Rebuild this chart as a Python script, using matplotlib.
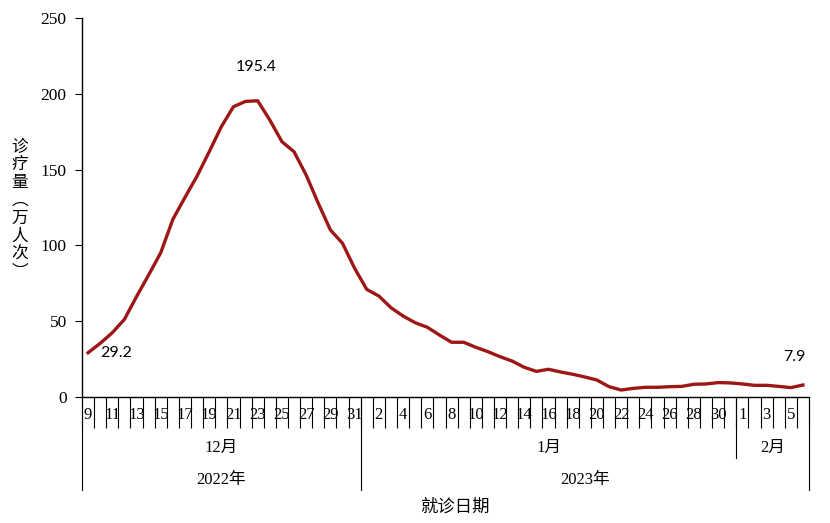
import matplotlib
matplotlib.use("Agg")
import matplotlib.pyplot as plt
import numpy as np

# daily values, 2022-12-09 .. 2023-02-06 (万人次)
days = list(range(9, 32)) + list(range(1, 32)) + list(range(1, 7))
visits = [
    29.2, 35.4, 42.4, 51.2, 66.2, 80.5, 95.2, 117.2, 131.7, 145.8,
    161.8, 178.3, 191.5, 195.0, 195.4, 182.7, 168.4, 161.8, 146.4, 127.8,
    110.2, 101.4, 84.9,
    71.0, 66.6, 58.9, 53.4, 49.0, 46.0, 40.9, 36.1, 36.1, 32.8,
    29.9, 26.6, 23.7, 19.6, 16.9, 18.3, 16.5, 15.0, 13.2, 11.2,
    6.8, 4.6, 5.7, 6.4, 6.4, 6.8, 7.0, 8.4, 8.6, 9.5,
    9.3, 8.6, 7.7, 7.7,
    7.0, 6.2, 7.9,
]
months = ["12月", "1月", "2月"]
month_len = [23, 31, 6]
years = ["2022年", "2023年"]
year_len = [23, 37]
labelled = [0, 14, 59]  # first, peak, last

W, H = 830, 523
fig = plt.figure(figsize=(W / 100, H / 100), dpi=100)
ax = fig.add_axes([82 / W, 1 - 397 / H, 727 / W, 379 / H])

serif = ["Liberation Serif", "Noto Sans CJK SC"]
sans_cjk = ["Noto Sans CJK SC", "DejaVu Sans"]
red = "#9E1717"

n = len(visits)
x = np.arange(n) + 0.5
ax.plot(x, visits, color=red, lw=2.4, solid_joinstyle="round")

ax.set_xlim(0, n)
ax.set_ylim(0, 250)
ax.set_yticks(np.arange(0, 251, 50))
for s in ["top", "right"]:
    ax.spines[s].set_visible(False)
for s in ["left", "bottom"]:
    ax.spines[s].set_linewidth(1.0)

ax.tick_params(axis="y", direction="out", length=5, width=0.8, pad=6)
for lab in ax.get_yticklabels():
    lab.set_fontfamily(serif)
    lab.set_fontsize(12.5)

# day ticks: boundaries as minor ticks, labels every other day
ax.set_xticks(np.arange(0, n + 1), minor=True)
ax.set_xticks(x[::2])
ax.set_xticklabels([str(d) for d in days[::2]], fontfamily=serif, fontsize=12)
ax.tick_params(axis="x", which="minor", direction="out", length=22, width=0.8)
ax.tick_params(axis="x", which="major", length=0, pad=7)

trans = ax.get_xaxis_transform()
ph = 379.0

# month separators and labels
edges = np.concatenate([[0], np.cumsum(month_len)])
year_edges = np.concatenate([[0], np.cumsum(year_len)])
for e in edges:
    depth = 93 if e in year_edges else 61
    ax.plot([e, e], [0, -depth / ph], color="black", lw=0.8,
            transform=trans, clip_on=False)
for m, a, b in zip(months, edges[:-1], edges[1:]):
    ax.text((a + b) / 2, -51 / ph, m, transform=trans, ha="center", va="center",
            fontfamily=serif, fontsize=12)
for yr, a, b in zip(years, year_edges[:-1], year_edges[1:]):
    ax.text((a + b) / 2, -83 / ph, yr, transform=trans, ha="center", va="center",
            fontfamily=serif, fontsize=12)

# data labels
offsets = {0: (20, 0), 14: (-1, 24), 59: (-6, 20)}
for i in labelled:
    ax.annotate(f"{visits[i]:.1f}", xy=(x[i], visits[i]), xytext=offsets[i],
                textcoords="offset points", ha="center", va="center",
                fontfamily="Lato", fontsize=11.5)

fig.text(455 / W, 1 - 507 / H, "就诊日期", ha="center", va="center",
         fontfamily=sans_cjk, fontsize=12.5)

ylabel = "诊疗量︵万人次︶"
for k, ch in enumerate(ylabel):
    fig.text(20 / W, 1 - (147 + 17.9 * k) / H, ch, ha="center", va="center",
             fontfamily=sans_cjk, fontsize=12)

fig.savefig("out.png", dpi=100)
